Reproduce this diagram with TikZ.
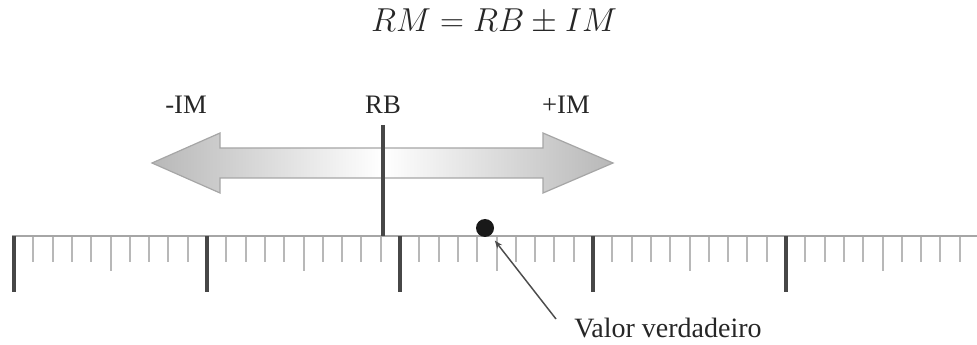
\documentclass[tikz,border=0pt]{standalone}
\usepackage{fontspec}
\setmainfont{Liberation Serif}
\usetikzlibrary{arrows.meta}
\begin{document}
\begin{tikzpicture}[x=0.75pt,y=-0.75pt,
  lbl/.style={inner sep=0pt,font=\fontsize{20}{24}\selectfont,text=black!85},
  minortick/.style={draw=black!28,line width=1.5pt},
  majortick/.style={draw=black!72,line width=2.6pt},
  baseline/.style={draw=black!35,line width=1.6pt},
  bigarrow/.style={draw=black!35,line width=0.9pt,left color=black!28,right color=black!28,middle color=white},
  pointer/.style={draw=black!70,line width=1.1pt,-{Stealth[length=6pt,width=4.5pt]},shorten >=5pt}]
\useasboundingbox (0,0) rectangle (977,345);
% equation
\node[inner sep=0pt,text=black!85] (eq) at (494,22) {\fontsize{25}{30}\selectfont $RM = RB \pm IM$};
% double arrow
\path[bigarrow] (152,163) -- (220,133) -- (220,148) -- (543,148) -- (543,133) -- (613,163)
  -- (543,193) -- (543,178) -- (220,178) -- (220,193) -- cycle;
% labels
\node[lbl] (minus) at (186,105) {-IM};
\node[lbl] (rb) at (383,105) {RB};
\node[lbl] (plus) at (566,105) {+IM};
% ruler
\begin{scope}
\clip (0,0) rectangle (977,345);
\foreach \i in {1,...,50}{
  \pgfmathtruncatemacro{\m}{mod(\i,10)}
  \pgfmathsetmacro{\xx}{14+\i*19.3}
  \ifnum\m=5
    \draw[minortick] (\xx,236) -- (\xx,271);
  \else\ifnum\m=0
  \else
    \draw[minortick] (\xx,236) -- (\xx,262);
  \fi\fi
}
\draw[baseline] (12,236) -- (977,236);
\foreach \k in {0,...,5}{
  \pgfmathsetmacro{\xx}{14+\k*193}
  \draw[majortick] (\xx,236) -- (\xx,292);
}
\end{scope}
% RB line
\coordinate (rbtop) at (383,125);
\coordinate (rbbot) at (383,236);
\draw[majortick] (rbtop) -- (rbbot);
% true value
\node[circle,fill=black!90,inner sep=0pt,minimum size=13.5pt] (dot) at (485,228) {};
\node[lbl,anchor=west,font=\fontsize{21}{25}\selectfont] (vv) at (574,328) {Valor verdadeiro};
\coordinate (vvstart) at (556,319);
\draw[pointer] (vvstart) -- (dot);
\end{tikzpicture}
\end{document}
